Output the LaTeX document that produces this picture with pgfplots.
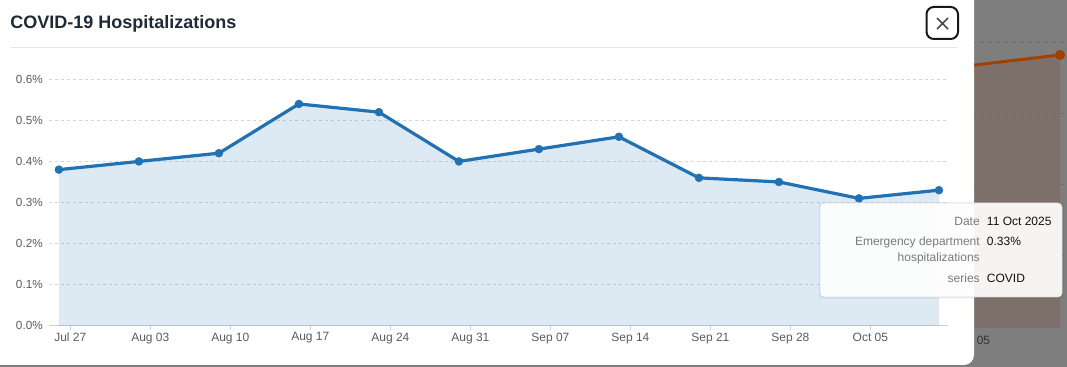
\documentclass[border=0pt]{standalone}
\usepackage{pgfplots}
\pgfplotsset{compat=1.18}
\usepackage{fontspec}
\setmainfont{Liberation Sans}
\definecolor{bggray}{HTML}{7E7E7E}
\definecolor{bgbrown}{HTML}{7D706A}
\definecolor{bgorange}{HTML}{A04100}
\definecolor{bgdash}{HTML}{6C6C6C}
\definecolor{lineblue}{HTML}{2171B5}
\definecolor{gridgray}{HTML}{D6D6D6}
\definecolor{axisgray}{HTML}{CCCCCC}
\definecolor{ticktext}{HTML}{575D66}
\definecolor{titlecol}{HTML}{1F2937}
\definecolor{sepgray}{HTML}{E5E7EB}
\definecolor{tiplabel}{HTML}{7A7A7A}
\definecolor{tipvalue}{HTML}{111111}
\begin{document}
\begin{tikzpicture}[x=0.75pt,y=0.75pt]
\useasboundingbox (0,0) rectangle (1067,367);
\coordinate (bgorigin) at (0,0);
\coordinate (mainorigin) at (49,41.3);
% page background (dimmed app)
\fill[bggray] (0,0) rectangle (1067,367);
% background chart (partly visible behind the modal)
\begin{axis}[at={(bgorigin)},anchor=south west,scale only axis,
  width=800.25pt,height=275.25pt,xmin=0,xmax=1067,ymin=0,ymax=367,hide axis]
\addplot[fill=bgbrown,draw=none] coordinates {(900,293.2) (1060,312) (1060,39) (900,39)} -- cycle;
\addplot[bgorange,line width=2.25pt,mark=*,mark size=2.6pt,mark options={fill=bgorange,draw=bgorange},mark indices={2}] coordinates {(900,293.2) (1060,312)};
\end{axis}
\foreach \yy in {324,253,182,111}{\draw[bgdash,line width=0.75pt,dash pattern=on 3pt off 3pt] (900,\yy) -- (1067,\yy);}
\node[anchor=mid west,inner sep=0pt,font=\fontsize{9}{11}\selectfont,text=black!80] at (976.5,26) {05};
% modal
\fill[white,rounded corners=7.5pt] (-20,2) rectangle (974,400);
% title, separator, close button
\node[anchor=base west,inner sep=0pt,font=\fontsize{13.5}{16}\selectfont\bfseries,text=titlecol] at (10,338.5) {COVID-19 Hospitalizations};
\draw[sepgray,line width=0.9pt] (10,319.7) -- (958,319.7);
\draw[black!90,line width=1.5pt,rounded corners=5.5pt] (926.5,328) rectangle (958,360);
\draw[black!70,line width=1.1pt] (937,349) -- (948,338) (937,338) -- (948,349);
% main chart
\begin{axis}[at={(mainorigin)},anchor=south west,scale only axis,
  width=674.25pt,height=184.8pt,
  xmin=-1.864,xmax=76.79,ymin=0,ymax=0.6,
  axis x line*=bottom, axis y line*=left,
  x axis line style={draw=axisgray,line width=0.75pt},
  y axis line style={draw=none},
  xtick={0,7,14,21,28,35,42,49,56,63,70},
  xticklabels={Jul 27,Aug 03,Aug 10,Aug 17,Aug 24,Aug 31,Sep 07,Sep 14,Sep 21,Sep 28,Oct 05},
  ytick={0,0.1,0.2,0.3,0.4,0.5,0.6},
  yticklabels={0.0\%,0.1\%,0.2\%,0.3\%,0.4\%,0.5\%,0.6\%},
  ymajorgrids,
  major grid style={gridgray,line width=0.6pt,dash pattern=on 2.25pt off 2.25pt},
  tick align=outside,
  major tick length=3.5pt,
  x tick style={axisgray,line width=0.75pt},
  y tick style={draw=none},
  xticklabel style={font=\fontsize{9}{11}\selectfont,text=ticktext,anchor=north,inner sep=0pt,yshift=-1.5pt},
  yticklabel style={font=\fontsize{8.8}{11}\selectfont,text=ticktext,anchor=east,inner sep=0pt,xshift=-1pt},
  clip=false]
\addplot[fill=lineblue,fill opacity=0.153,draw=none] coordinates {(-1,0.38) (6,0.40) (13,0.42) (20,0.54) (27,0.52) (34,0.40) (41,0.43) (48,0.46) (55,0.36) (62,0.35) (69,0.31) (76,0.33)} \closedcycle;
\addplot[lineblue,line width=2.4pt,line join=round,mark=*,mark size=3pt,mark options={solid,fill=lineblue,draw=lineblue,line width=0.3pt}] coordinates {(-1,0.38) (6,0.40) (13,0.42) (20,0.54) (27,0.52) (34,0.40) (41,0.43) (48,0.46) (55,0.36) (62,0.35) (69,0.31) (76,0.33)};
\end{axis}
% tooltip
\fill[black,opacity=0.08,rounded corners=3pt] (819,68.5) rectangle (1063.5,164.5);
\fill[white,opacity=0.93,rounded corners=3pt] (820,70) rectangle (1062,164);
\draw[black!12,line width=0.5pt,rounded corners=3pt] (820,70) rectangle (1062,164);
\begin{scope}[every node/.style={inner sep=0pt,font=\fontsize{9}{11}\selectfont}]
\node[anchor=mid east,text=tiplabel] at (980,145.3) {Date};
\node[anchor=mid west,text=tipvalue] at (986.7,145.3) {11 Oct 2025};
\node[anchor=mid east,text=tiplabel] at (980,125) {Emergency department};
\node[anchor=mid east,text=tiplabel] at (980,109.3) {hospitalizations};
\node[anchor=mid west,text=tipvalue] at (986.7,125) {0.33\%};
\node[anchor=mid east,text=tiplabel] at (980,88) {series};
\node[anchor=mid west,text=tipvalue] at (986.7,88) {COVID};
\end{scope}
\end{tikzpicture}
\end{document}
